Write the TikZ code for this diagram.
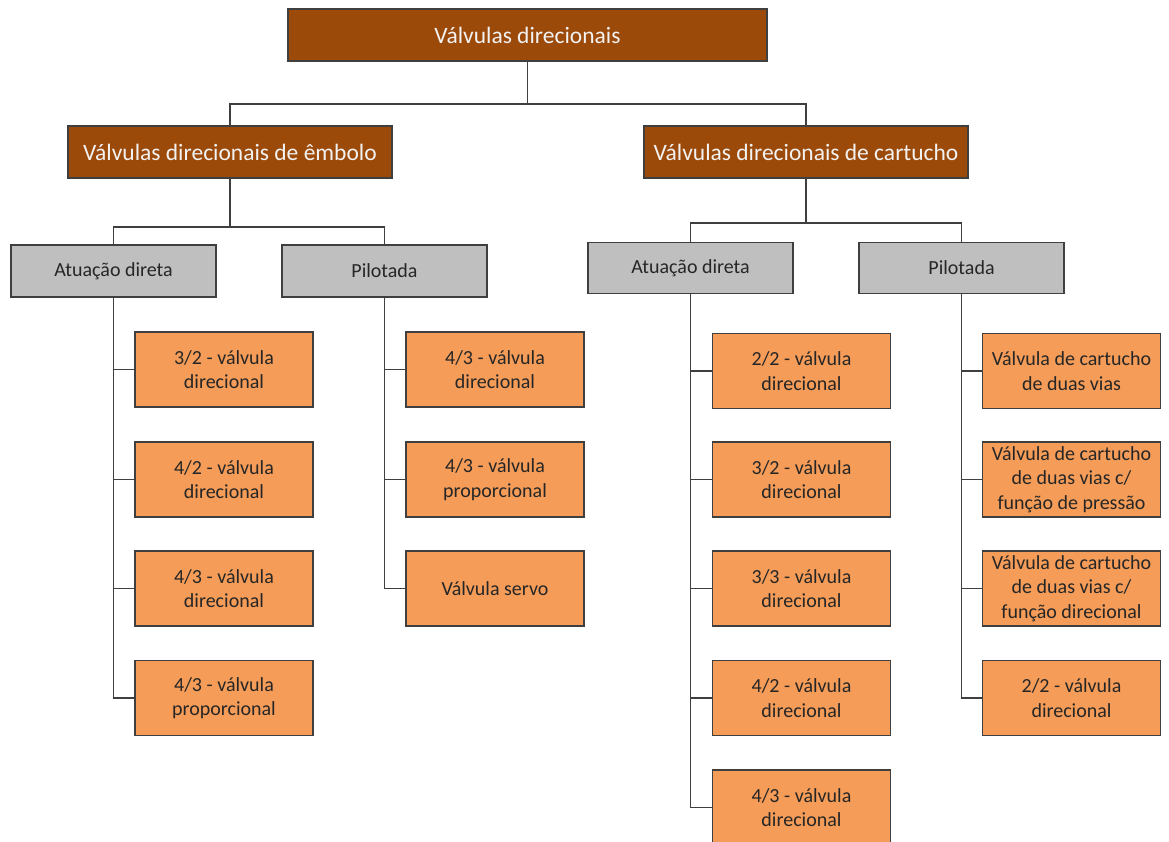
\documentclass[tikz,border=0pt]{standalone}
\usepackage{fontspec}
\setmainfont{Carlito}
\definecolor{brownbox}{HTML}{9C4A0A}
\definecolor{orangebox}{HTML}{F49C58}
\definecolor{greybox}{HTML}{BFBFBF}
\definecolor{edge}{HTML}{3F3F3F}
\definecolor{txt}{HTML}{262626}
\tikzset{
  base/.style={draw=edge, line width=1.3pt, inner sep=0pt, align=center, anchor=center},
  brownnode/.style={base, fill=brownbox, text=white!95!black, minimum width=324pt, minimum height=52pt, font=\fontsize{23.5}{28}\selectfont},
  greynode/.style={base, fill=greybox, text=txt, minimum width=205pt, minimum height=52pt, font=\fontsize{20}{24}\selectfont},
  leaf/.style={base, fill=orangebox, text=txt, minimum width=178pt, minimum height=75pt, font=\fontsize{20}{24.4}\selectfont},
  conn/.style={draw=edge, line width=1.3pt}
}
\begin{document}
\begin{tikzpicture}[x=1pt,y=-1pt]
\useasboundingbox (0,0) rectangle (1169,841);
\clip (0,0) rectangle (1169,841);
\fill[white] (0,0) rectangle (1169,841);

\node[brownnode, minimum width=479pt] (top) at (527.5,35) {Válvulas direcionais};
\node[brownnode] (emb) at (230,152) {Válvulas direcionais de êmbolo};
\node[brownnode] (car) at (806,152) {Válvulas direcionais de cartucho};

\node[greynode] (atuL) at (113.5,271) {Atuação direta};
\node[greynode] (pilL) at (384.5,271) {Pilotada};
\node[greynode, minimum height=51pt] (atuR) at (690.5,268) {Atuação direta};
\node[greynode, minimum height=51pt] (pilR) at (961.5,268) {Pilotada};

\node[leaf] (l1) at (224,369.5) {3/2 - válvula\\direcional};
\node[leaf] (l2) at (224,479.5) {4/2 - válvula\\direcional};
\node[leaf] (l3) at (224,588.5) {4/3 - válvula\\direcional};
\node[leaf] (l4) at (224,698) {4/3 - válvula\\proporcional};

\node[leaf] (p1) at (495,369.5) {4/3 - válvula\\direcional};
\node[leaf] (p2) at (495,479.5) {4/3 - válvula\\proporcional};
\node[leaf] (p3) at (495,588.5) {Válvula servo};

\node[leaf] (a1) at (801.5,371) {2/2 - válvula\\direcional};
\node[leaf] (a2) at (801.5,479.5) {3/2 - válvula\\direcional};
\node[leaf] (a3) at (801.5,588.5) {3/3 - válvula\\direcional};
\node[leaf] (a4) at (801.5,698) {4/2 - válvula\\direcional};
\node[leaf] (a5) at (801.5,807.5) {4/3 - válvula\\direcional};

\node[leaf] (r1) at (1071.5,371) {Válvula de cartucho\\de duas vias};
\node[leaf] (r2) at (1071.5,479.5) {Válvula de cartucho\\de duas vias c/\\função de pressão};
\node[leaf] (r3) at (1071.5,588.5) {Válvula de cartucho\\de duas vias c/\\função direcional};
\node[leaf] (r4) at (1071.5,698) {2/2 - válvula\\direcional};

\coordinate (b0) at (527,104);
\coordinate (b1) at (230,227);
\coordinate (b2) at (806,223);

\draw[conn] (top.south) -- (top.south |- b0) -| (emb.north);
\draw[conn] (top.south |- b0) -| (car.north);
\draw[conn] (emb.south) -- (emb.south |- b1) -| (atuL.north);
\draw[conn] (emb.south |- b1) -| (pilL.north);
\draw[conn] (car.south) -- (car.south |- b2) -| (atuR.north);
\draw[conn] (car.south |- b2) -| (pilR.north);

\foreach \c in {l1,l2,l3,l4} \draw[conn] (atuL.south) |- (\c.west);
\foreach \c in {p1,p2,p3} \draw[conn] (pilL.south) |- (\c.west);
\foreach \c in {a1,a2,a3,a4,a5} \draw[conn] (atuR.south) |- (\c.west);
\foreach \c in {r1,r2,r3,r4} \draw[conn] (pilR.south) |- (\c.west);
\end{tikzpicture}
\end{document}
